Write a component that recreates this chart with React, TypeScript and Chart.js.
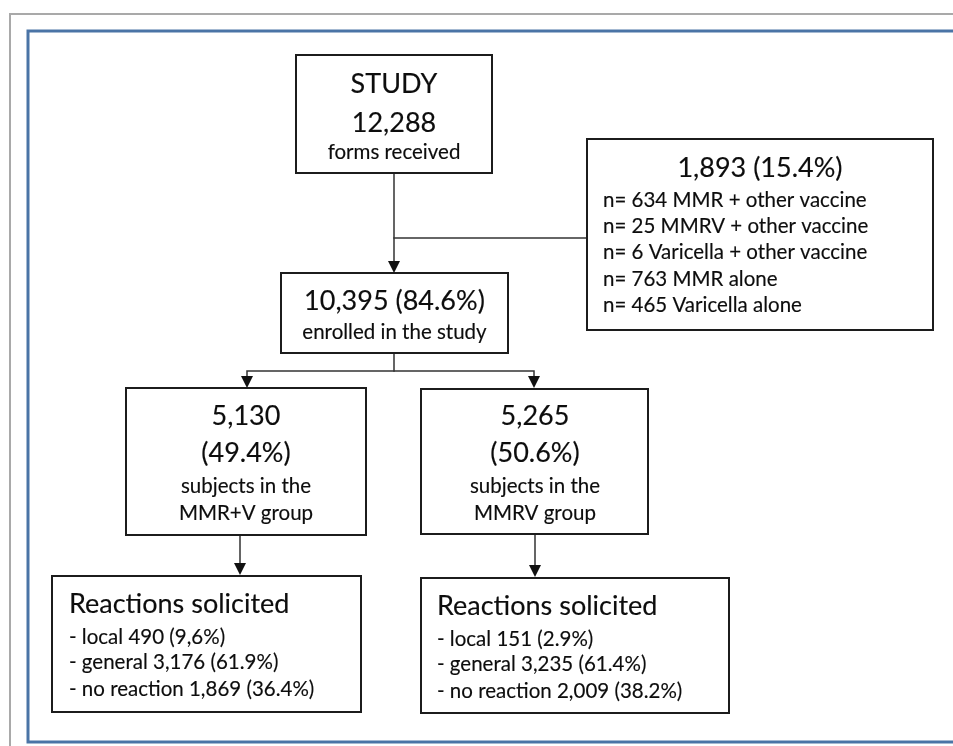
import React, { useEffect, useRef } from "react";
import { Chart, registerables } from "chart.js";
Chart.register(...registerables);

// ---------- content ----------
const studyLines = ["STUDY", "12,288", "forms received"];
const enrolledLines = ["10,395 (84.6%)", "enrolled in the study"];
const excludedTitle = "1,893 (15.4%)";
const excludedLines = [
  "n= 634 MMR + other vaccine",
  "n= 25 MMRV + other vaccine",
  "n= 6 Varicella + other vaccine",
  "n= 763 MMR alone",
  "n= 465 Varicella alone",
];
const groupLeftLines = ["5,130", "(49.4%)", "subjects in the", "MMR+V group"];
const groupRightLines = ["5,265", "(50.6%)", "subjects in the", "MMRV group"];
const reactionsTitle = "Reactions solicited";
const reactionsLeft = ["- local 490 (9,6%)", "- general 3,176 (61.9%)", "- no reaction 1,869 (36.4%)"];
const reactionsRight = ["- local 151 (2.9%)", "- general 3,235 (61.4%)", "- no reaction 2,009 (38.2%)"];

// ---------- layout (chart units == pixels) ----------
type Box = { x0: number; y0: number; x1: number; y1: number };
const boxStudy: Box = { x0: 296, y0: 55, x1: 492, y1: 173 };
const boxEnrolled: Box = { x0: 281, y0: 273, x1: 508, y1: 353 };
const boxExcluded: Box = { x0: 587, y0: 139, x1: 933, y1: 330 };
const boxGroupL: Box = { x0: 126, y0: 388, x1: 366, y1: 535 };
const boxGroupR: Box = { x0: 421, y0: 389, x1: 648, y1: 534 };
const boxReactL: Box = { x0: 52, y0: 576, x1: 361, y1: 712 };
const boxReactR: Box = { x0: 421, y0: 578, x1: 729, y1: 713 };
const boxes = [boxStudy, boxEnrolled, boxExcluded, boxGroupL, boxGroupR, boxReactL, boxReactR];

type P = { x: number; y: number };
const connectors: P[][] = [
  [{ x: 394, y: 173 }, { x: 394, y: 262 }],
  [{ x: 394, y: 238 }, { x: 587, y: 238 }],
  [{ x: 394, y: 353 }, { x: 394, y: 371 }],
  [{ x: 247, y: 378 }, { x: 247, y: 371 }, { x: 534, y: 371 }, { x: 534, y: 378 }],
  [{ x: 240, y: 535 }, { x: 240, y: 563 }],
  [{ x: 535, y: 534 }, { x: 535, y: 565 }],
];
const arrowTips: P[] = [
  { x: 394, y: 273 },
  { x: 247, y: 388 },
  { x: 534, y: 388 },
  { x: 240, y: 575 },
  { x: 535, y: 577 },
];
const grayFrame: P[] = [{ x: 10, y: 760 }, { x: 10, y: 14 }, { x: 970, y: 14 }];
const blueFrame: P[] = [{ x: 970, y: 31 }, { x: 28, y: 31 }, { x: 28, y: 742 }, { x: 970, y: 742 }];

const FONT = "Lato, 'Open Sans', sans-serif";
const BIG = 27;
const SMALL = 20.5;
type T = { text: string; x: number; y: number; size: number; align: CanvasTextAlign };
const texts: T[] = [];
const cx = (b: Box) => (b.x0 + b.x1) / 2;
[93, 132, 159].forEach((y, i) => texts.push({ text: studyLines[i], x: cx(boxStudy), y, size: i < 2 ? BIG : SMALL, align: "center" }));
[310, 339].forEach((y, i) => texts.push({ text: enrolledLines[i], x: cx(boxEnrolled), y, size: i < 1 ? BIG : SMALL, align: "center" }));
texts.push({ text: excludedTitle, x: cx(boxExcluded), y: 177, size: BIG, align: "center" });
[207, 233, 259, 286, 312].forEach((y, i) => texts.push({ text: excludedLines[i], x: 603, y, size: SMALL, align: "left" }));
[425, 462, 493, 520].forEach((y, i) => {
  texts.push({ text: groupLeftLines[i], x: cx(boxGroupL), y, size: i < 2 ? BIG : SMALL, align: "center" });
  texts.push({ text: groupRightLines[i], x: cx(boxGroupR) + 0.5, y, size: i < 2 ? BIG : SMALL, align: "center" });
});
texts.push({ text: reactionsTitle, x: 69, y: 613, size: BIG, align: "left" });
texts.push({ text: reactionsTitle, x: 437, y: 615, size: BIG, align: "left" });
[644, 669, 696].forEach((y, i) => texts.push({ text: reactionsLeft[i], x: 69, y, size: SMALL, align: "left" }));
[646, 671, 698].forEach((y, i) => texts.push({ text: reactionsRight[i], x: 437, y, size: SMALL, align: "left" }));

const rectPts = (b: Box): P[] => [
  { x: b.x0, y: b.y0 }, { x: b.x1, y: b.y0 }, { x: b.x1, y: b.y1 }, { x: b.x0, y: b.y1 }, { x: b.x0, y: b.y0 },
];

const flowPlugin = {
  id: "flow",
  afterDatasetsDraw(chart: any) {
    const ctx = chart.ctx as CanvasRenderingContext2D;
    const xs = chart.scales.x;
    const ys = chart.scales.y;
    ctx.save();
    ctx.fillStyle = "#111";
    arrowTips.forEach((t) => {
      const px = xs.getPixelForValue(t.x);
      const py = ys.getPixelForValue(t.y);
      ctx.beginPath();
      ctx.moveTo(px, py);
      ctx.lineTo(px - 6, py - 12);
      ctx.lineTo(px + 6, py - 12);
      ctx.closePath();
      ctx.fill();
    });
    ctx.fillStyle = "#0d0d0d";
    ctx.strokeStyle = "#0d0d0d";
    ctx.lineWidth = 0.15;
    ctx.lineJoin = "round";
    texts.forEach((t) => {
      ctx.font = `${t.size}px ${FONT}`;
      ctx.textAlign = t.align;
      ctx.textBaseline = "alphabetic";
      const px = xs.getPixelForValue(t.x);
      const py = ys.getPixelForValue(t.y);
      ctx.fillText(t.text, px, py);
      ctx.strokeText(t.text, px, py);
    });
    ctx.restore();
  },
};

export default function App() {
  const ref = useRef<HTMLCanvasElement | null>(null);
  useEffect(() => {
    document.body.style.margin = "0";
    const datasets: any[] = [];
    datasets.push({ data: grayFrame, borderColor: "#a9a9a9", borderWidth: 2 });
    datasets.push({ data: blueFrame, borderColor: "#4a74a6", borderWidth: 3 });
    boxes.forEach((b) => datasets.push({ data: rectPts(b), borderColor: "#1c1c1c", borderWidth: 2 }));
    connectors.forEach((c) => datasets.push({ data: c, borderColor: "#333", borderWidth: 1.5 }));
    datasets.forEach((d) => {
      d.showLine = true;
      d.pointRadius = 0;
      d.pointHoverRadius = 0;
      d.fill = false;
      d.tension = 0;
      d.borderJoinStyle = "miter";
      d.borderCapStyle = "square";
    });
    const chart = new Chart(ref.current as HTMLCanvasElement, {
      type: "scatter",
      data: { datasets },
      options: {
        animation: false,
        responsive: false,
        layout: { padding: 0 },
        plugins: { legend: { display: false }, tooltip: { enabled: false } },
        events: [],
        scales: {
          x: { type: "linear", min: 0, max: 953, display: false },
          y: { type: "linear", min: 0, max: 746, reverse: true, display: false },
        },
      },
      plugins: [flowPlugin],
    });
    return () => chart.destroy();
  }, []);
  return (
    <div style={{ width: 953, height: 746, background: "#fff" }}>
      <canvas ref={ref} width={953} height={746} style={{ display: "block" }} />
    </div>
  );
}
